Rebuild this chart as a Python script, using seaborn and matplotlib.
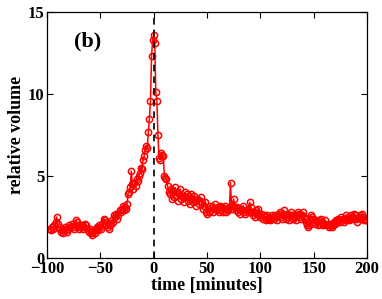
import seaborn as sns
import pandas as pd
import matplotlib
matplotlib.use("Agg")
import matplotlib.pyplot as plt

# sample times in minutes, one per minute
time = list(range(-97, 201))

volume = [
	1.8, 1.7, 1.9, 1.8, 2.0, 2.2, 2.5, 2.1, 1.9, 1.8,
	1.6, 1.7, 1.5, 1.8, 1.9, 1.7, 1.6, 1.8, 2.0, 1.9,
	2.1, 1.9, 1.8, 2.0, 2.3, 2.2, 1.9, 1.8, 2.0, 1.9,
	2.0, 1.8, 1.9, 2.1, 2.0, 1.7, 1.6, 1.8, 1.5, 1.4,
	1.6, 1.7, 1.5, 1.8, 1.9, 1.7, 2.0, 1.9, 1.8, 2.1,
	2.4, 2.3, 2.0, 2.2, 1.9, 1.8, 2.0, 2.1, 2.3, 2.2,
	2.6, 2.5, 2.7, 2.4, 2.6, 2.9, 2.8, 3.0, 3.2, 2.9,
	3.1, 3.0, 3.3, 3.9, 4.0, 4.3, 5.3, 4.5, 4.2, 4.6,
	4.4, 4.8, 4.7, 5.0, 5.2, 5.5, 5.4, 6.0, 6.2, 6.6,
	6.8, 6.7, 7.7, 8.5, 9.6, 12.3, 13.3, 13.6, 13.1, 10.1,
	9.6, 7.5, 6.1, 6.0, 6.4, 6.3, 6.2, 5.0, 4.9, 4.8,
	4.4, 4.0, 3.9, 4.2, 3.6, 4.1, 3.7, 4.3, 3.8, 4.0,
	3.5, 3.9, 4.2, 3.6, 3.8, 3.4, 4.0, 3.7, 3.9, 3.5,
	3.8, 3.3, 3.9, 3.6, 3.4, 3.8, 3.5, 3.2, 3.6, 3.3,
	3.5, 3.7, 3.4, 3.0, 3.2, 3.4, 2.8, 2.7, 3.0, 2.8,
	3.2, 2.9, 3.1, 2.8, 3.3, 3.0, 2.9, 3.1, 2.8, 3.2,
	2.9, 3.1, 2.8, 3.0, 3.2, 2.8, 3.0, 2.9, 3.1, 4.6,
	3.0, 3.2, 3.6, 3.1, 2.9, 3.1, 2.8, 3.0, 2.7, 3.0,
	2.9, 3.2, 2.8, 2.7, 2.9, 3.0, 2.8, 3.4, 3.1, 2.8,
	2.6, 2.8, 2.5, 2.9, 2.7, 3.0, 2.6, 2.5, 2.7, 2.4,
	2.6, 2.5, 2.3, 2.6, 2.4, 2.5, 2.3, 2.4, 2.6, 2.5,
	2.4, 2.6, 2.5, 2.3, 2.7, 2.8, 2.5, 2.4, 2.6, 2.9,
	2.6, 2.4, 2.7, 2.5, 2.3, 2.6, 2.8, 2.6, 2.4, 2.5,
	2.3, 2.6, 2.8, 2.7, 2.5, 2.4, 2.6, 2.8, 2.5, 2.4,
	2.2, 2.0, 1.9, 2.0, 2.6, 2.5, 2.4, 2.2, 2.1, 2.3,
	2.2, 2.0, 2.3, 2.1, 2.4, 2.2, 2.0, 2.1, 2.3, 2.0,
	2.1, 1.9, 2.0, 2.1, 1.9, 2.0, 2.2, 2.1, 2.3, 2.2,
	2.4, 2.3, 2.2, 2.5, 2.4, 2.2, 2.3, 2.6, 2.4, 2.5,
	2.3, 2.4, 2.6, 2.5, 2.4, 2.7, 2.6, 2.4, 2.2, 2.5,
	2.6, 2.4, 2.7, 2.5, 2.3, 2.4, 2.3, 2.3,
]

df = pd.DataFrame({'time': time, 'volume': volume})

sns.set_style("ticks")
plt.rcParams['font.family'] = ['Liberation Serif', 'DejaVu Serif']
plt.rcParams['font.weight'] = 'bold'
plt.rcParams['text.color'] = 'black'
plt.rcParams['axes.labelcolor'] = 'black'
plt.rcParams['xtick.color'] = 'black'
plt.rcParams['ytick.color'] = 'black'
plt.rcParams['axes.edgecolor'] = 'black'

fig = plt.figure(figsize=(3.82, 2.99), dpi=100)
ax = fig.add_axes([0.123, 0.137, 0.838, 0.823])

sns.lineplot(x='time', y='volume', data=df, ax=ax, color='red', linewidth=1.1,
	marker='o', markersize=4.5, markerfacecolor='none', markeredgecolor='red',
	markeredgewidth=1.1)
ax.axvline(0, color='black', linestyle='--', linewidth=1.2, dashes=(4, 3))

ax.set_xlim(-100, 200)
ax.set_ylim(0, 15)
ax.set_xticks([-100, -50, 0, 50, 100, 150, 200])
ax.set_yticks([0, 5, 10, 15])
ax.tick_params(direction='in', length=4, width=0.8, top=True, right=True,
	labelsize=12, pad=2, colors='black')
for lab in ax.get_xticklabels() + ax.get_yticklabels():
	lab.set_fontweight('bold')
for sp in ax.spines.values():
	sp.set_linewidth(0.9)
	sp.set_color('black')
	sp.set_visible(True)

ax.set_xlabel('time [minutes]', fontsize=13, fontweight='bold', labelpad=0)
ax.set_ylabel('relative volume', fontsize=13, fontweight='bold', labelpad=2)
ax.text(-75, 13.8, '(b)', fontsize=16, fontweight='bold', ha='left', va='top')

plt.savefig('out.png', dpi=100)
